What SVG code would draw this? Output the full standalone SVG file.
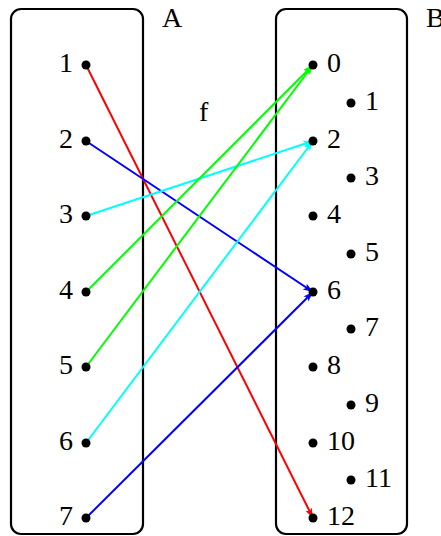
<svg xmlns="http://www.w3.org/2000/svg" width="441" height="536" viewBox="0 0 441 536">
<style>
.box{fill:none;stroke:#000;stroke-width:2.2}
.lbl{font-family:"Liberation Serif","Times New Roman",serif;font-size:28px;fill:#000}
.l{text-anchor:end}
.dot{fill:#000}
.e{fill:none;stroke-width:2}
</style>
<defs>
<marker id="mr" markerUnits="userSpaceOnUse" markerWidth="12" markerHeight="8" refX="10" refY="3.5" orient="auto"><path d="M0,0 L10,3.5 L0,7 L2.5,3.5 z" fill="#ff0000"/></marker>
<marker id="mb" markerUnits="userSpaceOnUse" markerWidth="12" markerHeight="8" refX="10" refY="3.5" orient="auto"><path d="M0,0 L10,3.5 L0,7 L2.5,3.5 z" fill="#0000ff"/></marker>
<marker id="mc" markerUnits="userSpaceOnUse" markerWidth="12" markerHeight="8" refX="10" refY="3.5" orient="auto"><path d="M0,0 L10,3.5 L0,7 L2.5,3.5 z" fill="#00ffff"/></marker>
<marker id="mg" markerUnits="userSpaceOnUse" markerWidth="12" markerHeight="8" refX="10" refY="3.5" orient="auto"><path d="M0,0 L10,3.5 L0,7 L2.5,3.5 z" fill="#00ff00"/></marker>
</defs>
<g id="setA">
<rect class="box" x="11" y="9" width="132" height="525" rx="10"/>
<text class="lbl" x="162" y="27">A</text>
</g>
<g id="setB">
<rect class="box" x="276" y="9" width="131" height="525" rx="10"/>
<text class="lbl" x="426" y="27">B</text>
</g>
<g id="connectors">
<line class="e" x1="86" y1="65" x2="313" y2="518" stroke="#ff0000" marker-end="url(#mr)"/>
<line class="e" x1="86" y1="141" x2="313" y2="292" stroke="#0000ff" marker-end="url(#mb)"/>
<line class="e" x1="86" y1="216" x2="313" y2="141" stroke="#00ffff" marker-end="url(#mc)"/>
<line class="e" x1="86" y1="292" x2="313" y2="65" stroke="#00ff00" marker-end="url(#mg)"/>
<line class="e" x1="86" y1="367" x2="313" y2="65" stroke="#00ff00" marker-end="url(#mg)"/>
<line class="e" x1="86" y1="443" x2="313" y2="141" stroke="#00ffff" marker-end="url(#mc)"/>
<line class="e" x1="86" y1="518" x2="313" y2="292" stroke="#0000ff" marker-end="url(#mb)"/>
<text class="lbl" x="199" y="121">f</text>
</g>
<g id="a1"><circle class="dot" cx="86" cy="65" r="4.5"/><text class="lbl l" x="73" y="72">1</text></g>
<g id="a2"><circle class="dot" cx="86" cy="141" r="4.5"/><text class="lbl l" x="73" y="148">2</text></g>
<g id="a3"><circle class="dot" cx="86" cy="216" r="4.5"/><text class="lbl l" x="73" y="223">3</text></g>
<g id="a4"><circle class="dot" cx="86" cy="292" r="4.5"/><text class="lbl l" x="73" y="299">4</text></g>
<g id="a5"><circle class="dot" cx="86" cy="367" r="4.5"/><text class="lbl l" x="73" y="374">5</text></g>
<g id="a6"><circle class="dot" cx="86" cy="443" r="4.5"/><text class="lbl l" x="73" y="450">6</text></g>
<g id="a7"><circle class="dot" cx="86" cy="518" r="4.5"/><text class="lbl l" x="73" y="525">7</text></g>
<g id="b0"><circle class="dot" cx="313" cy="65" r="4.5"/><text class="lbl" x="327" y="72">0</text></g>
<g id="b1"><circle class="dot" cx="351" cy="103" r="4.5"/><text class="lbl" x="365" y="110">1</text></g>
<g id="b2"><circle class="dot" cx="313" cy="141" r="4.5"/><text class="lbl" x="327" y="148">2</text></g>
<g id="b3"><circle class="dot" cx="351" cy="178" r="4.5"/><text class="lbl" x="365" y="185">3</text></g>
<g id="b4"><circle class="dot" cx="313" cy="216" r="4.5"/><text class="lbl" x="327" y="223">4</text></g>
<g id="b5"><circle class="dot" cx="351" cy="254" r="4.5"/><text class="lbl" x="365" y="261">5</text></g>
<g id="b6"><circle class="dot" cx="313" cy="292" r="4.5"/><text class="lbl" x="327" y="299">6</text></g>
<g id="b7"><circle class="dot" cx="351" cy="329" r="4.5"/><text class="lbl" x="365" y="336">7</text></g>
<g id="b8"><circle class="dot" cx="313" cy="367" r="4.5"/><text class="lbl" x="327" y="374">8</text></g>
<g id="b9"><circle class="dot" cx="351" cy="405" r="4.5"/><text class="lbl" x="365" y="412">9</text></g>
<g id="b10"><circle class="dot" cx="313" cy="443" r="4.5"/><text class="lbl" x="327" y="450">10</text></g>
<g id="b11"><circle class="dot" cx="351" cy="480" r="4.5"/><text class="lbl" x="365" y="487">11</text></g>
<g id="b12"><circle class="dot" cx="313" cy="518" r="4.5"/><text class="lbl" x="327" y="525">12</text></g>
</svg>
